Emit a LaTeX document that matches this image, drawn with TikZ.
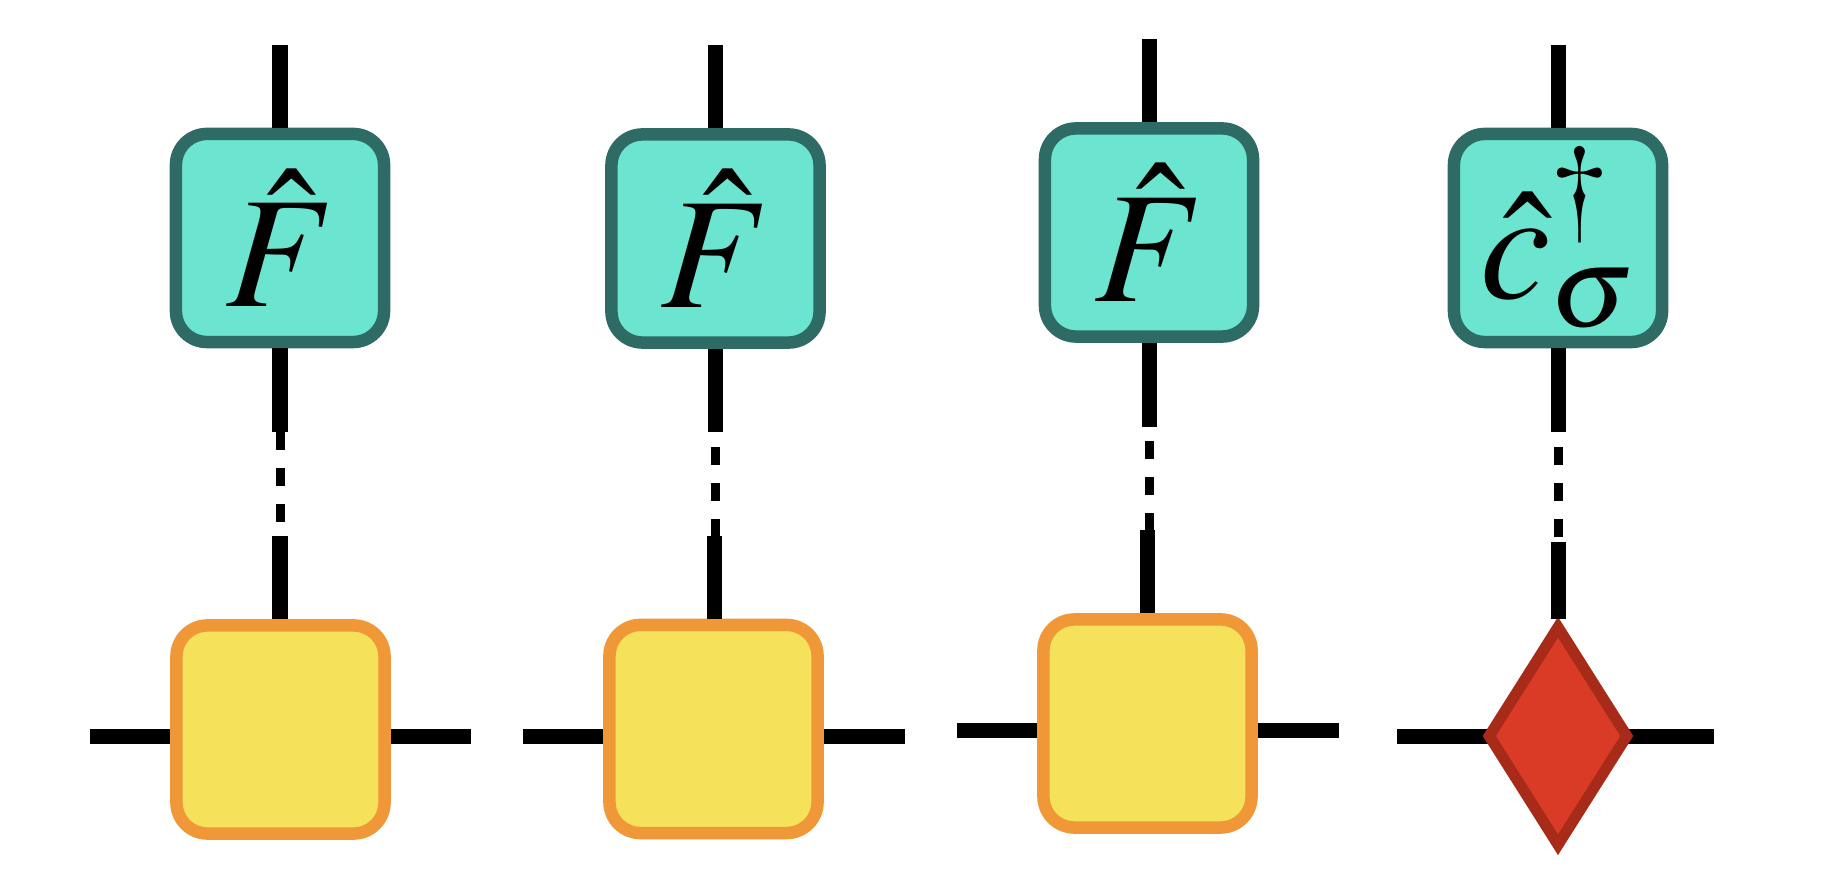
\documentclass[tikz,border=0pt]{standalone}
\usepackage{xcolor}
\usepackage{mathptmx}
\usepackage{tikz}
\usetikzlibrary{calc, shapes.geometric}
\pgfdeclarelayer{background}
\pgfsetlayers{background,main}
\definecolor{opfill}{HTML}{6BE4D0}
\definecolor{opdraw}{HTML}{2D6B64}
\definecolor{sitefill}{HTML}{F5E25A}
\definecolor{sitedraw}{HTML}{F09838}
\definecolor{vacfill}{HTML}{DA3B26}
\definecolor{vacdraw}{HTML}{A82A18}
\tikzstyle{op}     = [rectangle, rounded corners=0.31cm, minimum width=2.08cm, minimum height=2.08cm, inner sep=0pt, line width=0.125cm, draw=opdraw, fill=opfill, font=\fontsize{45}{54}\selectfont]
\tikzstyle{site}   = [rectangle, rounded corners=0.31cm, minimum width=2.08cm, minimum height=2.08cm, inner sep=0pt, line width=0.125cm, draw=sitedraw, fill=sitefill]
\tikzstyle{vacant} = [diamond, minimum width=1.42cm, minimum height=2.22cm, inner sep=0pt, line width=0.11cm, draw=vacdraw, fill=vacfill]
\tikzstyle{leg}    = [line width=0.15cm]
\tikzstyle{link}   = [line width=0.09cm, dash pattern=on 0.18cm off 0.18cm]

\begin{document}
\begin{tikzpicture}[x=0.01cm, y=-0.01cm]
    \useasboundingbox (0,0) rectangle (1848,880);

    % operators
    \node (op1) [op] at (280,238)     {$\hat{F}$};
    \node (op2) [op] at (715.5,238.5) {$\hat{F}$};
    \node (op3) [op] at (1149,232.5)  {$\hat{F}$};
    \node (op4) [op] at (1558,238)    {$\hat{c}^{\dagger}_{\sigma}$};

    % sites
    \node (site1) [site]   at (280.5,729.5) {};
    \node (site2) [site]   at (713.5,729)   {};
    \node (site3) [site]   at (1147.5,723.5) {};
    \node (site4) [vacant] at (1558,736)    {};

    % free ends
    \coordinate (top1) at (280,45);
    \coordinate (top2) at (715.5,45);
    \coordinate (top3) at (1149,39);
    \coordinate (top4) at (1558,45);
    \coordinate (cut1) at (280,432);
    \coordinate (cut2) at (715.5,432);
    \coordinate (cut3) at (1149,427);
    \coordinate (cut4) at (1558,432);
    \coordinate (join1) at (280,536);
    \coordinate (join2) at (714,536);
    \coordinate (join3) at (1147,530);
    \coordinate (join4) at (1558,542);
    \coordinate (left1) at (90,736.5);
    \coordinate (right1) at (471,736.5);
    \coordinate (left2) at (523,736.5);
    \coordinate (right2) at (905,736.5);
    \coordinate (left3) at (957,730.5);
    \coordinate (right3) at (1339,730.5);
    \coordinate (left4) at (1397,736.5);
    \coordinate (right4) at (1714,736.5);

    % legs
    \draw [leg] (top1) -- (op1.north);
    \draw [leg] (top2) -- (op2.north);
    \draw [leg] (top3) -- (op3.north);
    \draw [leg] (top4) -- (op4.north);
    \draw [leg] (op1.south) -- (cut1);
    \draw [leg] (op2.south) -- (cut2);
    \draw [leg] (op3.south) -- (cut3);
    \draw [leg] (op4.south) -- (cut4);
    \draw [link] (cut1) -- (join1);
    \draw [link, dash phase=0.21cm] (cut2) -- (join2 -| cut2);
    \draw [link, dash phase=0.22cm] (cut3) -- (join3 -| cut3);
    \draw [link, dash phase=0.21cm] (cut4) -- (join4);
    \draw [leg] (join1) -- (join1 |- site1.north);
    \draw [leg] (join2) -- (join2 |- site2.north);
    \draw [leg] (join3) -- (join3 |- site3.north);
    \draw [leg] (join4) -- (site4.north);

    \begin{pgfonlayer}{background}
    \draw [leg] (left1) -- (right1);
    \draw [leg] (left2) -- (right2);
    \draw [leg] (left3) -- (right3);
    \draw [leg] (left4) -- (right4);
    \end{pgfonlayer}
  \end{tikzpicture}
\end{document}
